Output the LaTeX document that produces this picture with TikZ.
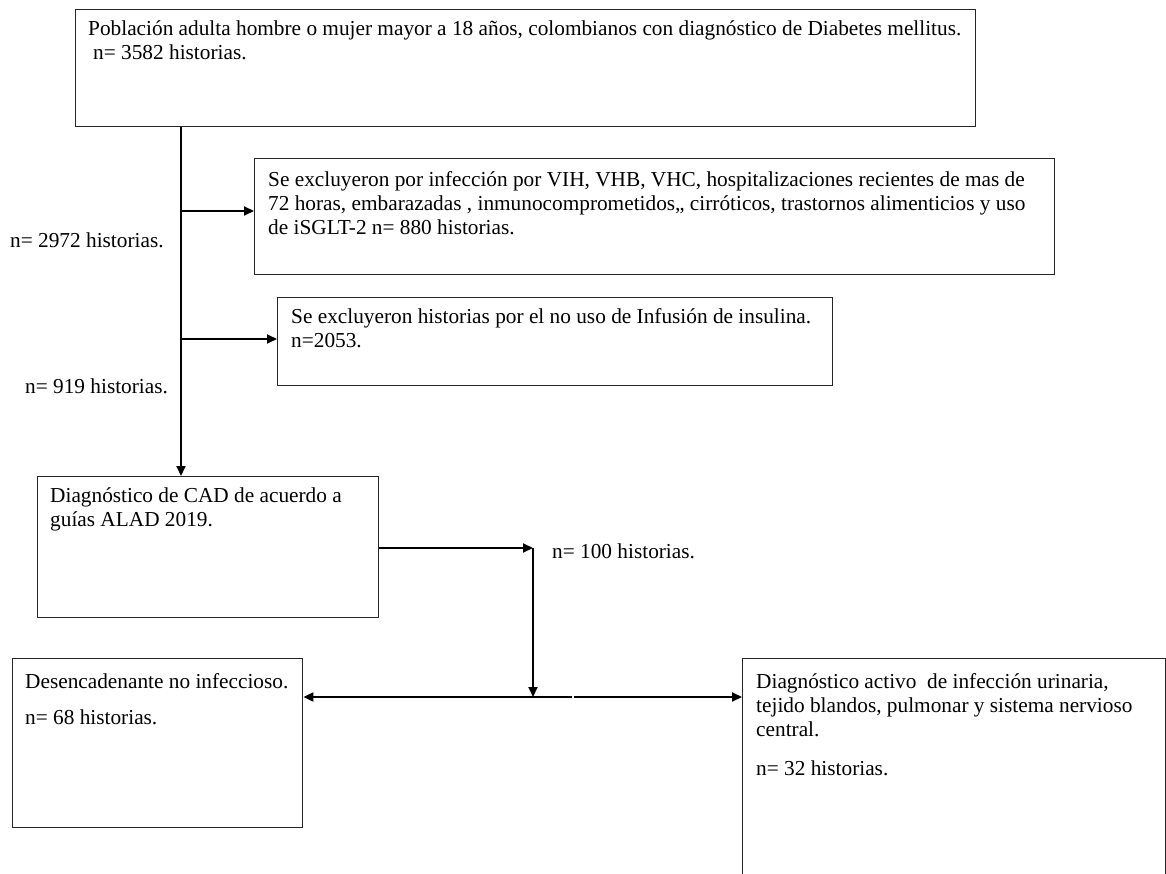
\documentclass[tikz,border=0pt]{standalone}
\usepackage{fontspec}
\setmainfont{Liberation Serif}
\usetikzlibrary{arrows.meta}
\begin{document}
\begin{tikzpicture}[x=1pt,y=-1pt,
  box/.style={draw=black!85, line width=1.4pt, rectangle, inner sep=0pt, anchor=north west},
  txt/.style={anchor=base west, inner sep=0pt, align=left, font=\fontsize{21.3}{24}\selectfont},
  arr/.style={line width=2pt, -{Triangle[length=10pt,width=9pt]}},
  ln/.style={line width=2pt}]
\useasboundingbox[fill=white] (0,0) rectangle (1166,874);
\clip (0,0) rectangle (1166,874);
% boxes
\node[box, minimum width=900pt, minimum height=117pt] (B1) at (75,9) {};
\node[box, minimum width=800pt, minimum height=116pt] (B2) at (254,158) {};
\node[box, minimum width=555pt, minimum height=88pt] (B3) at (277,297) {};
\node[box, minimum width=341pt, minimum height=141pt] (B4) at (37,476) {};
\node[box, minimum width=290pt, minimum height=169pt] (B5) at (12,658) {};
\node[box, minimum width=423pt, minimum height=260pt] (B6) at (742,658) {};
% texts (anchor = baseline of the last line)
\node[txt] (T1) at (88,60) {Población adulta hombre o mujer mayor a 18 años, colombianos con diagnóstico de Diabetes mellitus.\\\hspace{5pt}n= 3582 historias.};
\node[txt] (T2) at (268,235) {Se excluyeron por infección por VIH, VHB, VHC, hospitalizaciones recientes de mas de\\72 horas, embarazadas , inmunocomprometidos,, cirróticos, trastornos alimenticios y uso\\de iSGLT-2 n= 880 historias.};
\node[txt] (T3) at (291,347) {Se excluyeron historias por el no uso de Infusión de insulina.\\n=2053.};
\node[txt] (T4) at (50,526) {Diagnóstico de CAD de acuerdo a\\guías ALAD 2019.};
\node[txt] (T5) at (25,724) {Desencadenante no infeccioso.\\[12pt]n= 68 historias.};
\node[txt] (T6) at (756,775) {Diagnóstico activo~ de infección urinaria,\\tejido blandos, pulmonar y sistema nervioso\\central.\\[15pt]n= 32 historias.};
% labels
\node[txt] (L1) at (10,248) {n= 2972 historias.};
\node[txt] (L2) at (25,393) {n= 919 historias.};
\node[txt] (L3) at (552,558) {n= 100 historias.};
% connector coordinates
\coordinate (t) at (181,0);
\coordinate (j1) at (181,211);
\coordinate (j2) at (181,339);
\coordinate (c1) at (533,548);
\coordinate (c2) at (533,697);
\coordinate (g1) at (572,697);
\coordinate (g2) at (574,697);
% connectors
\draw[arr] (B1.south -| t) -- (B4.north -| t);
\draw[arr] (j1) -- (j1 -| B2.west);
\draw[arr] (j2) -- (j2 -| B3.west);
\draw[arr] (B4.east |- c1) -- (c1);
\draw[arr] (c1) -- (c2);
\draw[arr] (g1) -- (g1 -| B5.east);
\draw[arr] (g2) -- (g2 -| B6.west);
\end{tikzpicture}
\end{document}
